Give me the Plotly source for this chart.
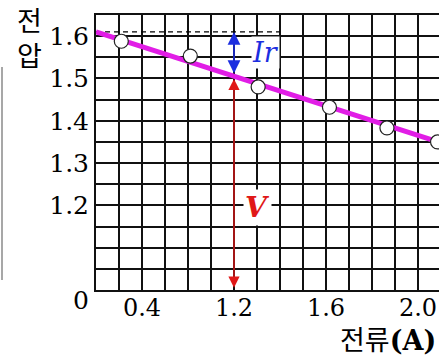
import numpy as np
import plotly.graph_objects as go

# Measured current (A) and terminal voltage (V)
current = [0.22, 0.82, 1.41, 2.03, 2.53, 2.97]
voltage = [1.588, 1.553, 1.480, 1.432, 1.383, 1.350]

# Fitted line V = E - I*r, given by its two end points
fit_current = [0.0, 3.1]
fit_voltage = [1.61, 1.339]

# EMF (intercept) and the reading used to show V and Ir
emf = 1.61
i_mark = 1.2
v_mark = 1.505

# Axis tick labels
x_tick_pos = [0.4, 1.2, 2.0, 2.8]
x_tick_text = ["0.4", "1.2", "1.6", "2.0"]
y_tick_vals = [1.2, 1.3, 1.4, 1.5, 1.6]
y_tick_text = ["1.2", "1.3", "1.4", "1.5", "1.6"]

W, H = 439, 358
L, T, B, R = 96, 15, 68, 0
x_range = [0.0, 2.9826]
y_range = [1.0, 1.65]

GRID = "#111111"
SERIF = "DejaVu Serif"
CJK = "Noto Sans CJK KR"
MAGENTA = "#e11de6"
BLUE = "#1c2ee0"
RED = "#e01818"

fig = go.Figure()

# dashed reference at the EMF level
fig.add_trace(go.Scatter(
    x=[0.0, 1.6], y=[emf, emf], mode="lines",
    line=dict(color="black", width=1.3, dash="5px,4px"),
    hoverinfo="skip", showlegend=False))

fig.add_trace(go.Scatter(
    x=fit_current, y=fit_voltage, mode="lines",
    line=dict(color=MAGENTA, width=5),
    hoverinfo="skip", showlegend=False))

fig.add_trace(go.Scatter(
    x=current, y=voltage, mode="markers",
    marker=dict(size=14, color="white",
                line=dict(color="#222222", width=1.2)),
    showlegend=False))

# double-headed arrows for Ir and V
fig.add_annotation(x=i_mark, y=emf, ax=i_mark, ay=v_mark + 0.004,
                   xref="x", yref="y", axref="x", ayref="y",
                   text="", showarrow=True, arrowside="end+start",
                   arrowhead=2, arrowsize=1.6, arrowwidth=1.6,
                   arrowcolor=BLUE)
fig.add_annotation(x=i_mark, y=v_mark - 0.006, ax=i_mark, ay=1.002,
                   xref="x", yref="y", axref="x", ayref="y",
                   text="", showarrow=True, arrowside="end+start",
                   arrowhead=2, arrowsize=1.6, arrowwidth=1.4,
                   arrowcolor=RED)

fig.add_annotation(x=1.47, y=1.5625, xref="x", yref="y", text="<i>Ir</i>",
                   showarrow=False, bgcolor="white", borderpad=0,
                   font=dict(family=SERIF, size=27, color=BLUE))
fig.add_annotation(x=1.40, y=1.196, xref="x", yref="y", text="<b><i>V</i></b>",
                   showarrow=False, bgcolor="white", borderpad=1,
                   font=dict(family=SERIF, size=28, color=RED))

pw, ph = W - L - R, H - T - B


def px_to_paper(px, py):
    return (px - L) / pw, (H - B - py) / ph


# origin label and axis titles
x0, y0 = px_to_paper(81, 300)
fig.add_annotation(x=x0, y=y0, xref="paper", yref="paper", text="0",
                   showarrow=False, xanchor="center", yanchor="middle",
                   font=dict(family=SERIF, size=25, color="black"))
xv, yv = px_to_paper(29, 37)
fig.add_annotation(x=xv, y=yv, xref="paper", yref="paper", text="전<br>압",
                   showarrow=False, xanchor="center", yanchor="middle",
                   font=dict(family=CJK, size=27, color="black"))
xc, yc = px_to_paper(437, 338)
fig.add_annotation(x=xc, y=yc, xref="paper", yref="paper",
                   text="전류<span style='font-family:DejaVu Serif'><b>(A)</b></span>",
                   showarrow=False, xanchor="right", yanchor="middle",
                   borderpad=0,
                   font=dict(family=CJK, size=27, color="black"))

# thin border line at the far left
xa, ya = px_to_paper(2, 67)
xb, yb = px_to_paper(2, 280)
fig.add_shape(type="line", xref="paper", yref="paper", x0=xa, y0=ya, x1=xb, y1=yb,
              line=dict(color="#8a8a8a", width=1.5))

x_grid = list(np.round(np.arange(0.0, 3.0, 0.2), 3))
y_grid = list(np.round(np.arange(1.0, 1.651, 0.05), 3))

fig.update_xaxes(
    range=x_range, tickmode="array", tickvals=x_tick_pos, ticktext=x_tick_text,
    showgrid=True, gridcolor=GRID, gridwidth=2,
    minor=dict(tickmode="array", tickvals=x_grid, showgrid=True,
               gridcolor=GRID, gridwidth=2),
    showline=True, linecolor=GRID, linewidth=2, mirror=True,
    zeroline=False, ticks="", ticklabelstandoff=-5,
    tickfont=dict(family=SERIF, size=24, color="black"))
fig.update_yaxes(
    range=y_range, tickmode="array", tickvals=y_tick_vals, ticktext=y_tick_text,
    showgrid=True, gridcolor=GRID, gridwidth=2,
    minor=dict(tickmode="array", tickvals=y_grid, showgrid=True,
               gridcolor=GRID, gridwidth=2),
    showline=True, linecolor=GRID, linewidth=2,
    zeroline=False, ticks="",
    tickfont=dict(family=SERIF, size=25, color="black"))

fig.update_layout(
    width=W, height=H,
    margin=dict(l=L, r=R, t=T, b=B),
    paper_bgcolor="white", plot_bgcolor="white",
    showlegend=False)

fig.write_html("out.html")
